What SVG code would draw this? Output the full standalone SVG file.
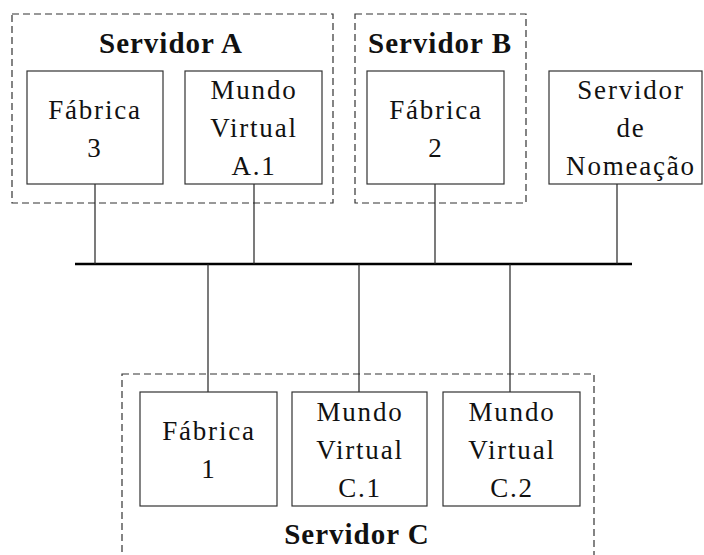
<svg xmlns="http://www.w3.org/2000/svg" width="704" height="555" viewBox="0 0 704 555">
<style>
.grp{fill:none;stroke:#333;stroke-width:1.2;stroke-dasharray:7 4}
.box{fill:#fff;stroke:#333;stroke-width:1.2}
.t{font-size:27px;letter-spacing:1.8px;fill:#111;text-anchor:middle}
.b{font-size:29px;font-weight:bold;letter-spacing:1px;fill:#111;text-anchor:middle}
.c{stroke:#222;stroke-width:1.2;fill:none}
.bus{stroke:#000;stroke-width:2.4;fill:none}
</style>
<rect width="704" height="555" fill="#fff"/>
<g font-family="Liberation Serif, Times New Roman, serif">
<g id="servidorA">
<rect class="grp" x="12" y="14" width="321" height="189"/>
<text class="b" x="171" y="53">Servidor A</text>
</g>
<g id="servidorB">
<rect class="grp" x="355" y="14" width="171" height="189"/>
<text class="b" x="440" y="53">Servidor B</text>
</g>
<g id="servidorC">
<rect class="grp" x="122" y="374" width="472" height="200"/>
<text class="b" x="357" y="544">Servidor C</text>
</g>
<g id="connectors">
<line class="bus" x1="75" y1="264" x2="632" y2="264"/>
<line class="c" x1="95" y1="184" x2="95" y2="264"/>
<line class="c" x1="254" y1="184" x2="254" y2="264"/>
<line class="c" x1="435" y1="184" x2="435" y2="264"/>
<line class="c" x1="617" y1="184" x2="617" y2="264"/>
<line class="c" x1="208" y1="264" x2="208" y2="392"/>
<line class="c" x1="359" y1="264" x2="359" y2="392"/>
<line class="c" x1="510" y1="264" x2="510" y2="392"/>
</g>
<g id="fabrica3">
<rect class="box" x="27" y="71" width="136" height="113"/>
<text class="t" x="95" y="119">Fábrica</text>
<text class="t" x="95" y="157">3</text>
</g>
<g id="mundoA1">
<rect class="box" x="185" y="71" width="137" height="113"/>
<text class="t" x="254" y="99">Mundo</text>
<text class="t" x="254" y="137">Virtual</text>
<text class="t" x="254" y="175">A.1</text>
</g>
<g id="fabrica2">
<rect class="box" x="367" y="71" width="137" height="113"/>
<text class="t" x="436" y="119">Fábrica</text>
<text class="t" x="436" y="157">2</text>
</g>
<g id="nomeacao">
<rect class="box" x="549" y="71" width="153" height="113"/>
<text class="t" x="631" y="99">Servidor</text>
<text class="t" x="631" y="137">de</text>
<text class="t" x="631" y="175">Nomeação</text>
</g>
<g id="fabrica1">
<rect class="box" x="140" y="392" width="137" height="114"/>
<text class="t" x="209" y="440">Fábrica</text>
<text class="t" x="209" y="478">1</text>
</g>
<g id="mundoC1">
<rect class="box" x="292" y="392" width="135" height="114"/>
<text class="t" x="360" y="421">Mundo</text>
<text class="t" x="360" y="459">Virtual</text>
<text class="t" x="360" y="497">C.1</text>
</g>
<g id="mundoC2">
<rect class="box" x="443" y="392" width="137" height="114"/>
<text class="t" x="512" y="421">Mundo</text>
<text class="t" x="512" y="459">Virtual</text>
<text class="t" x="512" y="497">C.2</text>
</g>
</g>
</svg>
